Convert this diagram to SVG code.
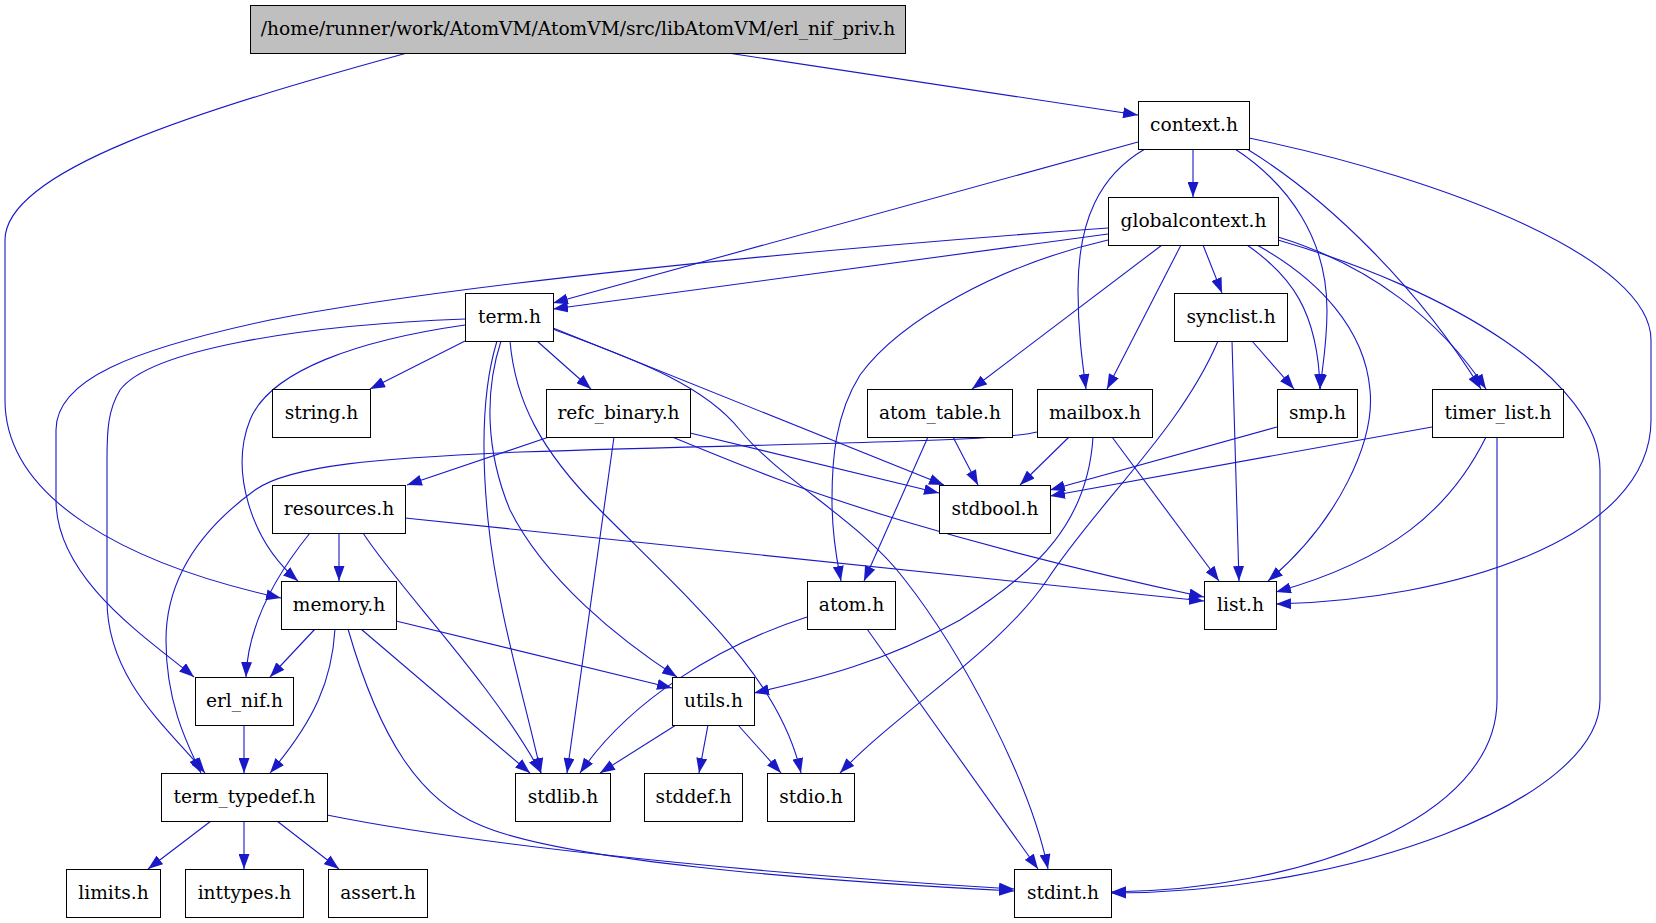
<svg xmlns="http://www.w3.org/2000/svg" width="1656" height="923" viewBox="0 0 1656 923">
<defs>
<marker id="a" markerUnits="userSpaceOnUse" markerWidth="15" markerHeight="11" viewBox="0 0 15 11" refX="15" refY="5.5" orient="auto">
<path d="M0,0 L15,5.5 L0,11 z" fill="#1919c8"/>
</marker>
<style>
.n rect{fill:#fff;stroke:#000;stroke-width:1}
.n.root rect{fill:#bfbfbf}
.n text{font-family:"DejaVu Serif",serif;font-size:18.6px;text-anchor:middle;fill:#000}
.e path{fill:none;stroke:#1919c8;stroke-width:1.1;marker-end:url(#a)}
</style>
</defs>
<rect width="1656" height="923" fill="#fff"/>
<g class="e" id="edges">
<path d="M728,53 L1138,115"/>
<path d="M407,53 C200,110 5,170 5,240 L5,400 C5,500 130,565 281,598"/>
<path d="M1193,149 L1193,197"/>
<path d="M1138,142 L553,303"/>
<path d="M1145,149 C1100,175 1078,220 1078,290 C1078,330 1082,360 1086,389"/>
<path d="M1235,149 C1290,185 1327,240 1327,310 C1327,345 1322,370 1320,389"/>
<path d="M1247,149 C1330,200 1420,290 1481,389"/>
<path d="M1249,138 C1450,180 1651,260 1651,340 L1651,420 C1651,540 1450,600 1276,604"/>
<path d="M1108,234 L553,309"/>
<path d="M1108,228 C800,250 450,285 270,320 C130,350 56,380 56,430 L56,500 C56,580 150,640 194,677"/>
<path d="M1108,240 C1000,265 900,320 860,375 C835,415 832,460 832,500 C832,540 838,565 841,581"/>
<path d="M1162,245 L972,389"/>
<path d="M1181,245 L1107,389"/>
<path d="M1203,245 L1222,293"/>
<path d="M1247,245 C1290,275 1318,310 1320,389"/>
<path d="M1257,245 C1320,280 1365,330 1370,390 C1375,440 1340,520 1268,581"/>
<path d="M1278,237 C1370,265 1440,320 1486,389"/>
<path d="M1278,240 C1450,290 1600,380 1600,470 L1600,700 C1600,800 1350,893 1111,893"/>
<path d="M465,341 L370,389"/>
<path d="M537,341 L591,389"/>
<path d="M465,325 C360,340 270,370 250,420 C230,470 250,540 298,581"/>
<path d="M465,319 C300,325 150,350 120,390 C108,410 107,430 107,460 L107,600 C107,680 170,730 205,773"/>
<path d="M497,341 C485,380 480,440 488,520 C497,610 525,700 541,773"/>
<path d="M501,341 C485,390 485,450 510,510 C545,580 620,640 677,677"/>
<path d="M510,341 C515,400 540,450 600,510 C700,610 780,680 801,773"/>
<path d="M553,328 L944,485"/>
<path d="M553,329 C620,355 700,380 740,430 C780,480 860,520 905,580 C960,650 1030,780 1048,869"/>
<path d="M1252,341 L1294,389"/>
<path d="M1232,341 L1239,581"/>
<path d="M1218,341 C1180,430 1100,500 1047,580 C1000,650 900,710 840,773"/>
<path d="M549,437 L407,485"/>
<path d="M614,437 L567,773"/>
<path d="M690,433 L939,493"/>
<path d="M672,437 C740,465 800,490 900,520 C1000,550 1100,575 1204,597"/>
<path d="M953,437 L978,485"/>
<path d="M928,437 L864,581"/>
<path d="M1069,437 L1020,485"/>
<path d="M1112,437 L1219,581"/>
<path d="M1093,437 C1088,520 1040,570 960,620 C880,665 810,680 754,693"/>
<path d="M1037,432 C1000,442 800,443 520,452 C380,458 290,465 255,490 C200,530 166,580 166,640 C166,700 185,740 201,773"/>
<path d="M1277,427 L1050,490"/>
<path d="M1432,427 L1050,496"/>
<path d="M1486,437 C1450,510 1390,560 1276,592"/>
<path d="M1497,437 L1497,700 C1497,820 1300,890 1111,892"/>
<path d="M339,533 L339,581"/>
<path d="M310,533 C280,570 248,620 246,677"/>
<path d="M363,533 C400,590 490,680 541,773"/>
<path d="M405,518 L1204,601"/>
<path d="M315,629 L270,677"/>
<path d="M335,629 C332,680 315,720 270,773"/>
<path d="M348,629 C380,740 420,800 480,825 C560,860 800,880 1014,891"/>
<path d="M361,629 L530,773"/>
<path d="M396,621 L672,688"/>
<path d="M807,617 C720,645 630,700 580,773"/>
<path d="M867,629 L1038,869"/>
<path d="M244,725 L244,773"/>
<path d="M676,725 L600,773"/>
<path d="M708,725 L699,773"/>
<path d="M738,725 L781,773"/>
<path d="M211,821 L148,869"/>
<path d="M244,821 L244,869"/>
<path d="M277,821 L339,869"/>
<path d="M327,815 C450,840 700,870 1014,889"/>
</g>
<g class="n root" id="erl_nif_priv"><rect x="250.5" y="5.5" width="655" height="48"/><text x="578" y="34.5">/home/runner/work/AtomVM/AtomVM/src/libAtomVM/erl_nif_priv.h</text></g>
<g class="n" id="context"><rect x="1138.5" y="101.5" width="111" height="48"/><text x="1194" y="130.5">context.h</text></g>
<g class="n" id="globalcontext"><rect x="1108.5" y="197.5" width="170" height="48"/><text x="1193.5" y="226.5">globalcontext.h</text></g>
<g class="n" id="term"><rect x="465.5" y="293.5" width="88" height="48"/><text x="509.5" y="322.5">term.h</text></g>
<g class="n" id="synclist"><rect x="1174.5" y="293.5" width="113" height="48"/><text x="1231" y="322.5">synclist.h</text></g>
<g class="n" id="string"><rect x="272.5" y="389.5" width="98" height="48"/><text x="321.5" y="418.5">string.h</text></g>
<g class="n" id="refc_binary"><rect x="546.5" y="389.5" width="144" height="48"/><text x="618.5" y="418.5">refc_binary.h</text></g>
<g class="n" id="atom_table"><rect x="867.5" y="389.5" width="145" height="48"/><text x="940" y="418.5">atom_table.h</text></g>
<g class="n" id="mailbox"><rect x="1037.5" y="389.5" width="115" height="48"/><text x="1095" y="418.5">mailbox.h</text></g>
<g class="n" id="smp"><rect x="1277.5" y="389.5" width="80" height="48"/><text x="1317.5" y="418.5">smp.h</text></g>
<g class="n" id="timer_list"><rect x="1432.5" y="389.5" width="131" height="48"/><text x="1498" y="418.5">timer_list.h</text></g>
<g class="n" id="resources"><rect x="272.5" y="485.5" width="133" height="48"/><text x="339" y="514.5">resources.h</text></g>
<g class="n" id="stdbool"><rect x="939.5" y="485.5" width="111" height="48"/><text x="995" y="514.5">stdbool.h</text></g>
<g class="n" id="memory"><rect x="281.5" y="581.5" width="115" height="48"/><text x="339" y="610.5">memory.h</text></g>
<g class="n" id="atom"><rect x="807.5" y="581.5" width="88" height="48"/><text x="851.5" y="610.5">atom.h</text></g>
<g class="n" id="list"><rect x="1204.5" y="581.5" width="72" height="48"/><text x="1240.5" y="610.5">list.h</text></g>
<g class="n" id="erl_nif"><rect x="195.5" y="677.5" width="98" height="48"/><text x="244.5" y="706.5">erl_nif.h</text></g>
<g class="n" id="utils"><rect x="672.5" y="677.5" width="82" height="48"/><text x="713.5" y="706.5">utils.h</text></g>
<g class="n" id="term_typedef"><rect x="161.5" y="773.5" width="166" height="48"/><text x="244.5" y="802.5">term_typedef.h</text></g>
<g class="n" id="stdlib"><rect x="515.5" y="773.5" width="95" height="48"/><text x="563" y="802.5">stdlib.h</text></g>
<g class="n" id="stddef"><rect x="644.5" y="773.5" width="98" height="48"/><text x="693.5" y="802.5">stddef.h</text></g>
<g class="n" id="stdio"><rect x="767.5" y="773.5" width="87" height="48"/><text x="811" y="802.5">stdio.h</text></g>
<g class="n" id="limits"><rect x="66.5" y="869.5" width="94" height="48"/><text x="113.5" y="898.5">limits.h</text></g>
<g class="n" id="inttypes"><rect x="185.5" y="869.5" width="118" height="48"/><text x="244.5" y="898.5">inttypes.h</text></g>
<g class="n" id="assert"><rect x="328.5" y="869.5" width="99" height="48"/><text x="378" y="898.5">assert.h</text></g>
<g class="n" id="stdint"><rect x="1014.5" y="869.5" width="97" height="48"/><text x="1063" y="898.5">stdint.h</text></g>
</svg>
